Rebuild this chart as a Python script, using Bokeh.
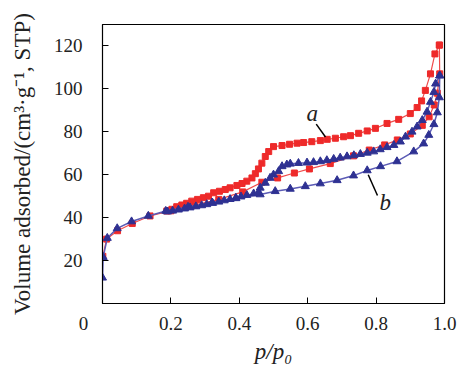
from bokeh.plotting import figure
from bokeh.models import Label, FixedTicker, Range1d, Segment, ColumnDataSource
from bokeh.embed import file_html
from bokeh.resources import INLINE

# ---- data ----
a_ads_p = [0.001, 0.012, 0.044, 0.087, 0.139, 0.20, 0.27, 0.34, 0.41, 0.466, 0.512, 0.561,
           0.605, 0.666, 0.734, 0.78, 0.825, 0.862, 0.90, 0.935, 0.955, 0.97, 0.979, 0.986, 0.985]
a_ads_v = [22, 30, 33.9, 37.3, 40.8, 43.2, 45.8, 48.5, 52, 56.5, 58.5, 60.8,
           62.7, 65.2, 68.8, 71.5, 73.9, 76.2, 79, 83, 87, 92.5, 98, 107, 120.4]

a_des_p = [0.985, 0.972, 0.959, 0.944, 0.933, 0.92, 0.9, 0.866, 0.832, 0.798, 0.774, 0.749,
           0.725, 0.705, 0.681, 0.657, 0.637, 0.612, 0.588, 0.569, 0.547, 0.525, 0.5, 0.486,
           0.476, 0.466, 0.456, 0.447, 0.437, 0.422, 0.408, 0.393, 0.373, 0.359, 0.342, 0.325,
           0.31, 0.295, 0.278, 0.261, 0.246, 0.232, 0.217, 0.203, 0.188]
a_des_v = [120.4, 116.3, 107, 99.3, 94.4, 91.3, 88.5, 85.8, 83.9, 81.6, 80.4, 79.3,
           78.2, 77.7, 77, 76.5, 75.9, 75.4, 75, 74.7, 74.2, 73.6, 73.1, 70.8,
           68.5, 65.4, 62.7, 60.5, 58.5, 57, 55.9, 55, 53.9, 53.1, 52.3, 51.6,
           50, 49.3, 48.5, 47.7, 46.7, 45.9, 45.1, 43.9, 43.1]

b_ads_p = [0.0, 0.002, 0.014, 0.043, 0.085, 0.134, 0.185, 0.25, 0.32, 0.39, 0.461, 0.505,
           0.549, 0.593, 0.637, 0.686, 0.734, 0.774, 0.813, 0.861, 0.91, 0.939, 0.954, 0.969,
           0.979, 0.985, 0.986]
b_ads_v = [12, 21.6, 30.5, 35, 38.2, 40.8, 43.1, 45, 47, 49, 50.8, 52.3,
           53.4, 54.6, 55.9, 57.4, 59.6, 62, 63.9, 66.2, 70.8, 74.5, 78.5, 83.5,
           89, 96, 106.2]

b_des_p = [0.986, 0.974, 0.969, 0.959, 0.949, 0.935, 0.92, 0.905, 0.886, 0.871, 0.852, 0.832,
           0.812, 0.793, 0.774, 0.754, 0.735, 0.715, 0.695, 0.676, 0.656, 0.637, 0.617, 0.598,
           0.573, 0.549, 0.539, 0.525, 0.515, 0.5, 0.49, 0.476, 0.461, 0.456, 0.442, 0.422,
           0.405, 0.39, 0.373, 0.356, 0.34, 0.322, 0.305, 0.29, 0.273, 0.256, 0.24, 0.222,
           0.205, 0.19]
b_des_v = [106.2, 102.4, 98.5, 93.9, 89.3, 85.4, 82.4, 80, 77.7, 75.4, 73.8, 72.8,
           71.8, 70.8, 70.2, 69.6, 69, 68.5, 67.9, 67.3, 66.7, 66.2, 65.8, 65.6,
           65.4, 65.1, 64.7, 63.9, 61.6, 60, 58.5, 56.2, 53.9, 51.6, 51.2, 50.5,
           49.8, 49.2, 48.6, 48, 47.4, 46.8, 46.2, 45.7, 45.2, 44.7, 44.2, 43.7,
           43.2, 42.8]

x_ticks = [0, 0.2, 0.4, 0.6, 0.8, 1.0]
x_tick_labels = {0: "0\u2007\u2007\u2007\u2007", 0.2: "0.2", 0.4: "0.4", 0.6: "0.6", 0.8: "0.8", 1.0: "1.0"}
y_ticks = [20, 40, 60, 80, 100, 120]

RED = "#ee2a2a"
RED_LINE = "#f04a4a"
BLUE = "#2e3192"
BLUE_LINE = "#5b5bb5"
FONT = "Liberation Serif"
TXT = "#222222"

p = figure(width=472, height=366, output_backend="svg", toolbar_location=None,
           x_range=Range1d(0, 1.0), y_range=Range1d(0, 130),
           min_border_left=102, min_border_right=28, min_border_top=24, min_border_bottom=61)
p.xgrid.visible = False
p.ygrid.visible = False
p.outline_line_color = "black"
p.outline_line_width = 1.2
p.outline_line_alpha = 1.0
p.background_fill_color = "white"
p.border_fill_color = "white"

for ax in (p.xaxis[0], p.yaxis[0]):
    ax.axis_line_color = "black"
    ax.major_tick_in = 6
    ax.major_tick_out = 0
    ax.minor_tick_line_color = None
    ax.major_tick_line_color = "black"
    ax.major_label_text_font = FONT
    ax.major_label_text_font_size = "19px"
    ax.major_label_text_color = TXT
    ax.axis_label_text_font = FONT
    ax.axis_label_text_font_size = "23px"
    ax.axis_label_text_font_style = "normal"
    ax.axis_label_text_color = TXT

p.xaxis.ticker = FixedTicker(ticks=x_ticks)
p.yaxis.ticker = FixedTicker(ticks=y_ticks)
p.xaxis.major_label_overrides = x_tick_labels
p.xaxis.major_label_standoff = 9
p.yaxis.major_label_standoff = 20
p.xaxis.axis_label = "p/p\u2080"
p.xaxis.axis_label_text_font_style = "italic"
p.xaxis.axis_label_standoff = 2
p.yaxis.axis_label = "Volume adsorbed/(cm\u00b3\u00b7g\u207b\u00b9, STP)"
p.yaxis.axis_label_standoff = 16

# series a (red squares)
p.line(a_ads_p, a_ads_v, color=RED_LINE, line_width=1.2)
p.line(a_des_p, a_des_v, color=RED_LINE, line_width=1.2)
p.scatter(a_ads_p, a_ads_v, marker="square", size=6, color=RED)
p.scatter(a_des_p, a_des_v, marker="square", size=6, color=RED)

# series b (blue triangles)
p.line(b_ads_p, b_ads_v, color=BLUE_LINE, line_width=1.5)
p.line(b_des_p, b_des_v, color=BLUE_LINE, line_width=1.5)
p.scatter(b_ads_p, b_ads_v, marker="triangle", size=8, color=BLUE)
p.scatter(b_des_p, b_des_v, marker="triangle", size=8, color=BLUE)

# annotations
lead = ColumnDataSource(dict(x0=[0.625, 0.777], y0=[83.6, 60.0], x1=[0.652, 0.804], y1=[77.6, 50.3]))
p.add_glyph(lead, Segment(x0="x0", y0="y0", x1="x1", y1="y1", line_color="black", line_width=1.5))
p.add_layout(Label(x=0.613, y=88.7, text="a", text_font=FONT, text_font_style="italic",
                   text_font_size="23px", text_align="center", text_baseline="middle",
                   text_color=TXT))
p.add_layout(Label(x=0.827, y=47.1, text="b", text_font=FONT, text_font_style="italic",
                   text_font_size="23px", text_align="center", text_baseline="middle",
                   text_color=TXT))

open("out.html", "w").write(file_html(p, INLINE))
